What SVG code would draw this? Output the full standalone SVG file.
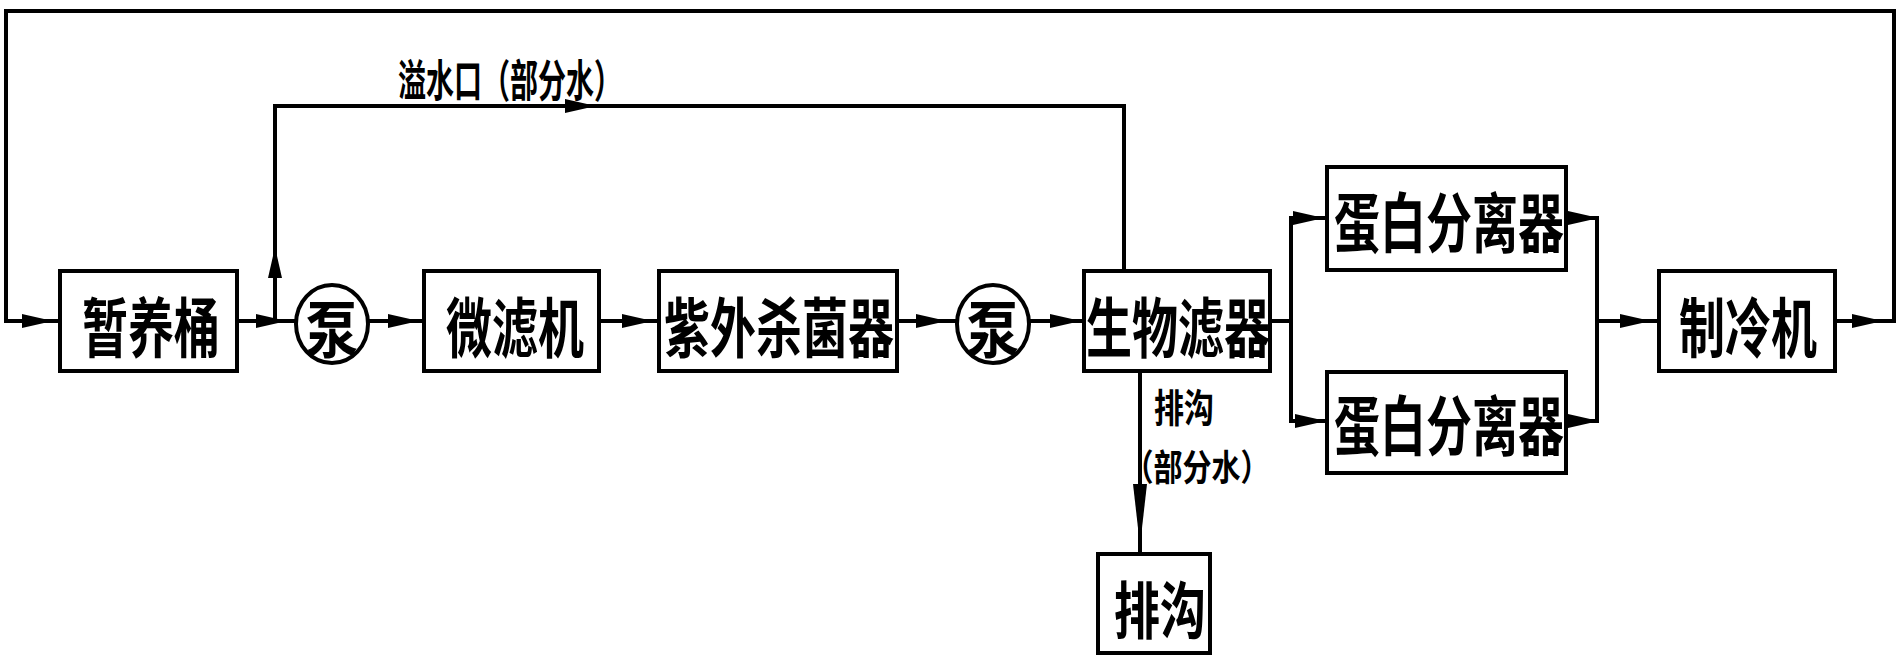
<svg xmlns="http://www.w3.org/2000/svg" xmlns:xlink="http://www.w3.org/1999/xlink" width="1900" height="663" viewBox="0 0 1900 663">
<style>
  .box { fill: #fff; stroke: #000; stroke-width: 4; }
  .pump { fill: #fff; stroke: #000; stroke-width: 4; }
  .ln { fill: none; stroke: #000; stroke-width: 4; stroke-linejoin: miter; }
  .t { font-family: 'Noto Sans CJK SC', 'Noto Sans CJK JP', sans-serif; font-weight: bold; font-size: 46px; text-anchor: middle; dominant-baseline: central; fill: #000; }
  .lbl { font-family: 'Noto Sans CJK SC', 'Noto Sans CJK JP', sans-serif; font-weight: bold; text-anchor: middle; dominant-baseline: central; fill: #000; }
</style>
<defs>
  <path id="ah" d="M0,-7 L22,-2 L22,2 L0,7 Z" fill="#000"/>
</defs>
<rect width="1900" height="663" fill="#fff"/>

<g id="connectors">
  <path class="ln" d="M58,321 H6 V11 H1894 V321 H1837"/>
  <path class="ln" d="M239,321 H295"/>
  <path class="ln" d="M369,321 H422"/>
  <path class="ln" d="M601,321 H657"/>
  <path class="ln" d="M899,321 H956"/>
  <path class="ln" d="M1030,321 H1082"/>
  <path class="ln" d="M1272,321 H1291"/>
  <path class="ln" d="M1325,218 H1291 V421 H1325"/>
  <path class="ln" d="M1568,218 H1597 V421 H1568"/>
  <path class="ln" d="M1597,321 H1657"/>
  <path class="ln" d="M275,321 V106 H1124 V269"/>
  <path class="ln" d="M1140,373 V552"/>
  <use xlink:href="#ah" transform="translate(22,321)"/>
  <use xlink:href="#ah" transform="translate(256,321)"/>
  <use xlink:href="#ah" transform="translate(388,321)"/>
  <use xlink:href="#ah" transform="translate(622,321)"/>
  <use xlink:href="#ah" transform="translate(916,321)"/>
  <use xlink:href="#ah" transform="translate(1050,321)"/>
  <use xlink:href="#ah" transform="translate(1293,218)"/>
  <use xlink:href="#ah" transform="translate(1295,421)"/>
  <use xlink:href="#ah" transform="translate(1568,218)"/>
  <use xlink:href="#ah" transform="translate(1568,421)"/>
  <use xlink:href="#ah" transform="translate(1620,321)"/>
  <use xlink:href="#ah" transform="translate(1852,321)"/>
  <use xlink:href="#ah" transform="translate(275,278) rotate(-90)"/>
  <use xlink:href="#ah" transform="translate(565,106)"/>
  <use xlink:href="#ah" transform="translate(1140,484) rotate(90) scale(2,1)"/>
  <text class="lbl" font-size="28" transform="translate(510,78) scale(1,1.6)">溢水口（部分水）</text>
  <text class="lbl" font-size="30" transform="translate(1184,405) scale(1,1.3)">排沟</text>
  <text class="lbl" font-size="29" transform="translate(1197,465) scale(1,1.25)">（部分水）</text>
</g>

<g id="n-tank">
  <rect class="box" x="60" y="271" width="177" height="100"/>
  <text class="t" transform="translate(151,324) scale(1,1.4)">暂养桶</text>
</g>
<g id="n-pump1">
  <ellipse class="pump" cx="332" cy="324" rx="36" ry="39"/>
  <text class="t" style="font-size:52px" transform="translate(332,326) scale(1,1.2)">泵</text>
</g>
<g id="n-microfilter">
  <rect class="box" x="424" y="271" width="175" height="100"/>
  <text class="t" transform="translate(515,324) scale(1,1.4)">微滤机</text>
</g>
<g id="n-uv">
  <rect class="box" x="659" y="271" width="238" height="100"/>
  <text class="t" transform="translate(779,324) scale(1,1.4)">紫外杀菌器</text>
</g>
<g id="n-pump2">
  <ellipse class="pump" cx="993" cy="324" rx="36" ry="39"/>
  <text class="t" style="font-size:52px" transform="translate(993,326) scale(1,1.2)">泵</text>
</g>
<g id="n-biofilter">
  <rect class="box" x="1084" y="271" width="186" height="100"/>
  <text class="t" transform="translate(1178,324) scale(1,1.4)">生物滤器</text>
</g>
<g id="n-skimmer1">
  <rect class="box" x="1327" y="167" width="239" height="103"/>
  <text class="t" transform="translate(1449,219) scale(1,1.4)">蛋白分离器</text>
</g>
<g id="n-skimmer2">
  <rect class="box" x="1327" y="372" width="239" height="101"/>
  <text class="t" transform="translate(1449,422) scale(1,1.4)">蛋白分离器</text>
</g>
<g id="n-chiller">
  <rect class="box" x="1659" y="271" width="176" height="100"/>
  <text class="t" transform="translate(1748,324) scale(1,1.4)">制冷机</text>
</g>
<g id="n-drain">
  <rect class="box" x="1098" y="554" width="112" height="99"/>
  <text class="t" transform="translate(1160,607) scale(1,1.35)">排沟</text>
</g>
</svg>
